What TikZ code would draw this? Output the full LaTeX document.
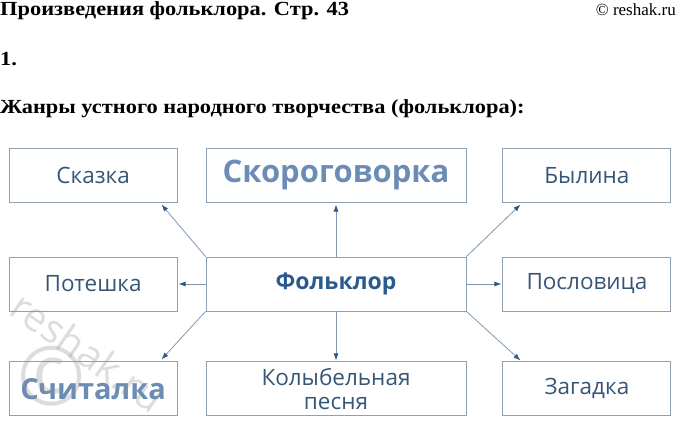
\documentclass[tikz,border=0pt]{standalone}
\usepackage{fontspec}
\setmainfont{Liberation Serif}
\newfontfamily\headfont[FakeStretch=1.12]{Liberation Serif}
\newfontfamily\boxfont{Open Sans}
\usetikzlibrary{arrows.meta, positioning}
\definecolor{boxline}{HTML}{8FA0B5}
\definecolor{boxtext}{HTML}{365676}
\definecolor{folktext}{HTML}{2B5A8E}
\definecolor{paletext}{HTML}{6B8DB5}
\definecolor{arrline}{HTML}{8297AF}
\definecolor{arrtip}{HTML}{2E5686}
\definecolor{wmark}{HTML}{909090}

\begin{document}
\begin{tikzpicture}[x=1pt, y=-1pt, node distance=54pt and 28pt,
    genre/.style={draw=boxline, line width=0.9pt, minimum width=168pt, minimum height=54pt, inner sep=0pt, align=center, text=boxtext, font=\boxfont\fontsize{22.5}{24}\selectfont},
    wide/.style={genre, minimum width=260pt},
    arr/.style={draw=arrline, line width=0.8pt, -{Latex[length=7pt, width=5pt, color=arrtip]}},
    head/.style={anchor=base west, inner sep=0pt, font=\headfont\bfseries\fontsize{20}{22}\selectfont},
    wmtext/.style={text=wmark, text opacity=0.3, inner sep=0pt}]
  \useasboundingbox (0,0) rectangle (678,421);

  % header lines
  \node[head] (title) at (0,15) {Произведения фольклора. Стр. 43};
  \node[anchor=base east, inner sep=0pt, font=\fontsize{17}{20}\selectfont] (site) at (676,15) {© reshak.ru};
  \node[head] (num) at (0,65) {1.};
  \node[head] (task) at (0,113) {Жанры устного народного творчества (фольклора):};

  % boxes
  \node[wide, font=\boxfont\bfseries\fontsize{23}{24}\selectfont, text=folktext] (folk) at (336,284) {Фольклор};
  \node[wide, above=of folk, font=\boxfont\bfseries\fontsize{31}{34}\selectfont, text=paletext] (skoro) {Скороговорка};
  \node[wide, below=50pt of folk] (kolyb) {Колыбельная\\песня};
  \node[genre, left=28pt of folk] (poteshka) {Потешка};
  \node[genre, right=36pt of folk] (poslov) {Пословица};
  \node[genre, left=28pt of skoro] (skazka) {Сказка};
  \node[genre, right=36pt of skoro] (bylina) {Былина};
  \node[genre, left=28pt of kolyb, font=\boxfont\bfseries\fontsize{29}{32}\selectfont, text=paletext] (schit) {Считалка};
  \node[genre, right=36pt of kolyb] (zagadka) {Загадка};

  % arrows
  \draw[arr] (folk.north west) -- ([xshift=-16pt, yshift=-2pt]skazka.south east);
  \draw[arr] (folk.north) -- ([yshift=-2pt]skoro.south);
  \draw[arr] (folk.north east) -- ([xshift=18pt, yshift=-2pt]bylina.south west);
  \draw[arr] (folk.west) -- ([xshift=1pt]poteshka.east);
  \draw[arr] (folk.east) -- ([xshift=-1pt]poslov.west);
  \draw[arr] (folk.south west) -- ([xshift=-16pt, yshift=2pt]schit.north east);
  \draw[arr] (folk.south) -- ([yshift=1pt]kolyb.north);
  \draw[arr] (folk.south east) -- ([xshift=18pt, yshift=1pt]zagadka.north west);

  % watermark
  \node[wmtext, font=\boxfont\fontsize{82}{82}\selectfont] (wmc) at (52,376) {©};
  \node[wmtext, rotate=-35, font=\boxfont\fontsize{40}{40}\selectfont] (wmt) at (88,352) {reshak.ru};
\end{tikzpicture}
\end{document}
